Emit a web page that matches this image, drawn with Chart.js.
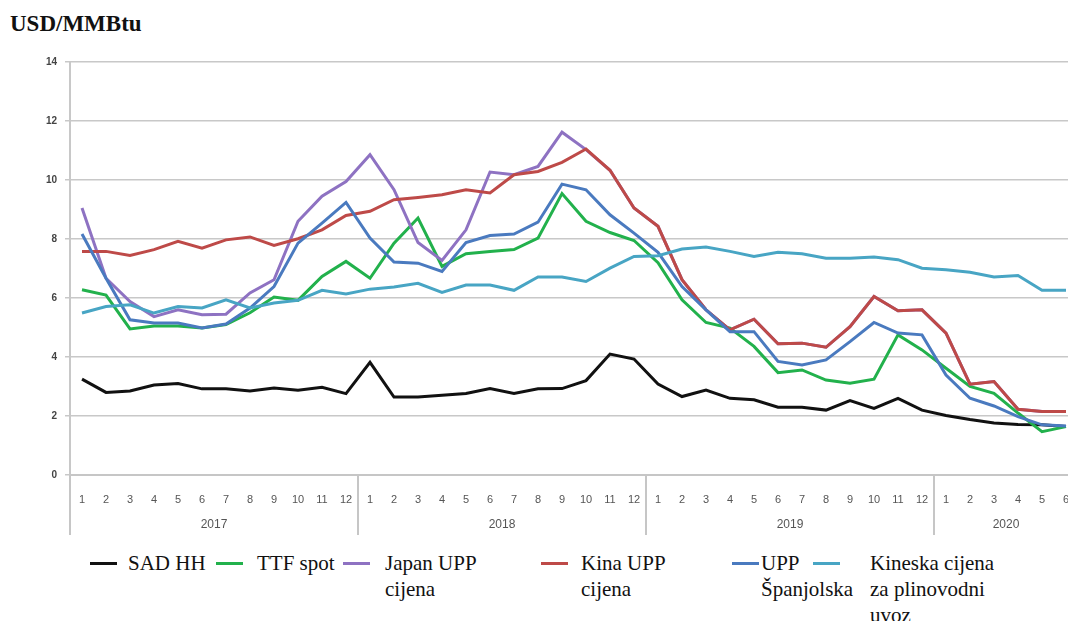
<!DOCTYPE html>
<html>
<head>
<meta charset="utf-8">
<script src="https://cdn.jsdelivr.net/npm/chart.js@4"></script>
<style>
  body { margin: 0; width: 1068px; height: 621px; overflow: hidden; background: #fff; position: relative; }
  #wrap { position: absolute; left: 0; top: 0; width: 1080px; height: 545px; }
  .title { position: absolute; left: 10px; top: 10px; font: bold 23px "Liberation Serif", serif; line-height: 28px; color: #111; }
  .mk { position: absolute; width: 27px; height: 3px; }
  .lt { position: absolute; font: 21px "Liberation Serif", serif; line-height: 26px; color: #111; white-space: nowrap; }
</style>
</head>
<body>
<div class="title">USD/MMBtu</div>
<div id="wrap"><canvas id="gasChart" width="1080" height="545"></canvas></div>
<div id="legend"></div>

<script>
const years = ['2017', '2018', '2019', '2020'];
const monthsPerYear = [12, 12, 12, 6];

const sadHH = [3.25, 2.8, 2.85, 3.05, 3.1, 2.92, 2.92, 2.85, 2.95, 2.87, 2.97, 2.76,
  3.82, 2.64, 2.64, 2.7, 2.76, 2.93, 2.76, 2.92, 2.93, 3.2, 4.1, 3.93,
  3.08, 2.66, 2.88, 2.6, 2.55, 2.3, 2.3, 2.2, 2.52, 2.26, 2.6, 2.2,
  2.02, 1.88, 1.76, 1.71, 1.7, 1.64];
const ttfSpot = [6.28, 6.1, 4.95, 5.05, 5.05, 4.98, 5.1, 5.5, 6.03, 5.92, 6.73, 7.24,
  6.67, 7.86, 8.71, 7.07, 7.5, 7.58, 7.64, 8.03, 9.54, 8.6, 8.22, 7.95,
  7.2, 5.94, 5.17, 4.98, 4.36, 3.47, 3.56, 3.22, 3.11, 3.25, 4.75, 4.24,
  3.62, 3.0, 2.77, 2.1, 1.47, 1.64];
const japanUPP = [9.05, 6.67, 5.88, 5.37, 5.6, 5.43, 5.45, 6.17, 6.62, 8.6, 9.45, 9.95,
  10.86, 9.67, 7.88, 7.27, 8.31, 10.27, 10.18, 10.46, 11.62, 11.03, 10.33, 9.05,
  8.43, 6.62, 5.6, 4.92, 5.28, 4.45, 4.47, 4.33, 5.03, 6.05, 5.57, 5.6,
  4.81, 3.08, 3.17, 2.23, 2.15, 2.15];
const kinaUPP = [7.58, 7.58, 7.44, 7.64, 7.92, 7.69, 7.97, 8.07, 7.78, 8.01, 8.31, 8.8,
  8.94, 9.33, 9.41, 9.5, 9.67, 9.56, 10.18, 10.29, 10.6, 11.05, 10.33, 9.05,
  8.43, 6.62, 5.6, 4.92, 5.28, 4.45, 4.47, 4.33, 5.03, 6.05, 5.57, 5.6,
  4.81, 3.08, 3.17, 2.23, 2.15, 2.15];
const uppSpanjolska = [8.17, 6.67, 5.26, 5.15, 5.15, 4.98, 5.12, 5.66, 6.39, 7.86, 8.54, 9.24,
  8.03, 7.22, 7.18, 6.9, 7.88, 8.12, 8.17, 8.57, 9.86, 9.67, 8.82, 8.2,
  7.55, 6.39, 5.6, 4.86, 4.86, 3.85, 3.73, 3.9, 4.52, 5.17, 4.81, 4.75,
  3.39, 2.6, 2.34, 1.98, 1.7, 1.66];
const kineskaPlinovod = [5.49, 5.71, 5.77, 5.49, 5.71, 5.66, 5.94, 5.66, 5.83, 5.92, 6.26, 6.14,
  6.3, 6.37, 6.5, 6.19, 6.44, 6.44, 6.26, 6.71, 6.71, 6.56, 7.01, 7.41,
  7.43, 7.66, 7.73, 7.58, 7.41, 7.55, 7.5, 7.35, 7.35, 7.39, 7.3, 7.01,
  6.96, 6.87, 6.71, 6.76, 6.26, 6.26];

// month numbers 1..12 per year, 1..6 for 2020
const monthLabels = [];
monthsPerYear.forEach(n => { for (let m = 1; m <= n; m++) monthLabels.push(String(m)); });

const series = [
  { label: 'SAD HH', data: sadHH, color: '#111111', lines: ['SAD HH'], mk: 90, tx: 128 },
  { label: 'TTF spot', data: ttfSpot, color: '#22b14c', lines: ['TTF spot'], mk: 216, tx: 257 },
  { label: 'Japan UPP cijena', data: japanUPP, color: '#8e72c2', lines: ['Japan UPP', 'cijena'], mk: 343, tx: 385 },
  { label: 'Kina UPP cijena', data: kinaUPP, color: '#be4a48', lines: ['Kina UPP', 'cijena'], mk: 541, tx: 581 },
  { label: 'UPP Španjolska', data: uppSpanjolska, color: '#4a7abf', lines: ['UPP', 'Španjolska'], mk: 732, tx: 761 },
  { label: 'Kineska cijena za plinovodni uvoz', data: kineskaPlinovod, color: '#48a5c4', lines: ['Kineska cijena', 'za plinovodni', 'uvoz'], mk: 813, tx: 870 }
];

// legend under the chart
const legend = document.getElementById('legend');
series.forEach(s => {
  const mk = document.createElement('div');
  mk.className = 'mk';
  mk.style.left = s.mk + 'px';
  mk.style.top = '562px';
  mk.style.background = s.color;
  legend.appendChild(mk);
  const tx = document.createElement('div');
  tx.className = 'lt';
  tx.style.left = s.tx + 'px';
  tx.style.top = '550px';
  tx.innerHTML = s.lines.join('<br>');
  legend.appendChild(tx);
});

// second row of the x axis: year names with separators
const yearRow = {
  id: 'yearRow',
  afterDraw(chart) {
    const x = chart.scales.x;
    const ctx = chart.ctx;
    const top = chart.chartArea.bottom;
    const step = x.getPixelForValue(1) - x.getPixelForValue(0);
    ctx.save();
    ctx.strokeStyle = '#c6c6c6';
    ctx.lineWidth = 2;
    ctx.fillStyle = '#555';
    ctx.font = '12px "Liberation Sans", sans-serif';
    ctx.textAlign = 'center';
    ctx.textBaseline = 'middle';
    ctx.beginPath();
    ctx.moveTo(x.left, top);
    ctx.lineTo(x.left, top + 60);
    ctx.stroke();
    let idx = 0;
    years.forEach((y, i) => {
      const left = x.getPixelForValue(idx) - step / 2;
      const right = x.getPixelForValue(idx + monthsPerYear[i] - 1) + step / 2;
      ctx.beginPath();
      ctx.moveTo(right, top);
      ctx.lineTo(right, top + 60);
      ctx.stroke();
      ctx.fillText(y, (left + right) / 2, top + 50);
      idx += monthsPerYear[i];
    });
    ctx.restore();
  }
};

const ctx = document.getElementById('gasChart').getContext('2d');
const gasChart = new Chart(ctx, {
  type: 'line',
  data: {
    labels: monthLabels,
    datasets: series.map((s, i) => ({
      label: s.label,
      data: s.data,
      borderColor: s.color,
      backgroundColor: s.color,
      borderWidth: 3,
      pointRadius: 0,
      tension: 0,
      fill: false,
      order: series.length - 1 - i
    }))
  },
  options: {
    responsive: false,
    devicePixelRatio: 1,
    animation: false,
    layout: { padding: { top: 62, right: 2, bottom: 10, left: 0 } },
    plugins: { legend: { display: false }, tooltip: { enabled: false }, title: { display: false } },
    scales: {
      x: {
        type: 'category',
        offset: true,
        grid: { display: false },
        border: { display: true, color: '#c6c6c6', width: 2 },
        ticks: {
          autoSkip: false, maxRotation: 0, padding: 10,
          color: '#555', font: { family: 'Liberation Sans', size: 11 }
        },
        afterFit(scale) { scale.height = 60; }
      },
      y: {
        min: 0, max: 14,
        grid: { color: '#c8c8c8', lineWidth: 1.5, tickLength: 5 },
        border: { display: true, color: '#c8c8c8', width: 2 },
        ticks: {
          stepSize: 2, padding: 8,
          color: '#444', font: { family: 'Liberation Sans', size: 10, weight: 'bold' }
        },
        afterFit(scale) { scale.width = 70; }
      }
    }
  },
  plugins: [yearRow]
});
</script>
</body>
</html>
